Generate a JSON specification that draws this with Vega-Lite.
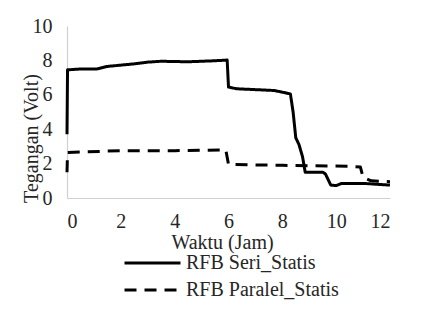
{
  "$schema": "https://vega.github.io/schema/vega-lite/v6.json",
  "width": 323,
  "height": 172,
  "autosize": {"type": "none"},
  "padding": {"left": 67, "top": 26, "right": 36, "bottom": 112},
  "background": "white",
  "config": {
    "view": {"stroke": null},
    "font": "Liberation Serif",
    "axis": {"labelFont": "Liberation Serif", "titleFont": "Liberation Serif", "labelFontSize": 20, "titleFontSize": 20, "titleFontWeight": "normal", "labelColor": "#262626", "titleColor": "#262626", "domainColor": "#d0d0d0", "domainWidth": 1.2, "ticks": false, "grid": false},
    "legend": {"labelFont": "Liberation Serif", "labelFontSize": 20, "labelColor": "#262626", "padding": 0}
  },
  "data": {
    "values": [
      {"t": 0, "v": 3.7, "s": "RFB Seri_Statis"},
      {"t": 0.02, "v": 7.45, "s": "RFB Seri_Statis"},
      {"t": 0.5, "v": 7.5, "s": "RFB Seri_Statis"},
      {"t": 1.1, "v": 7.5, "s": "RFB Seri_Statis"},
      {"t": 1.5, "v": 7.65, "s": "RFB Seri_Statis"},
      {"t": 2.5, "v": 7.8, "s": "RFB Seri_Statis"},
      {"t": 3.0, "v": 7.9, "s": "RFB Seri_Statis"},
      {"t": 3.5, "v": 7.95, "s": "RFB Seri_Statis"},
      {"t": 4.5, "v": 7.92, "s": "RFB Seri_Statis"},
      {"t": 5.5, "v": 7.98, "s": "RFB Seri_Statis"},
      {"t": 5.95, "v": 8.02, "s": "RFB Seri_Statis"},
      {"t": 6.0, "v": 6.45, "s": "RFB Seri_Statis"},
      {"t": 6.3, "v": 6.35, "s": "RFB Seri_Statis"},
      {"t": 7.0, "v": 6.3, "s": "RFB Seri_Statis"},
      {"t": 7.7, "v": 6.25, "s": "RFB Seri_Statis"},
      {"t": 8.1, "v": 6.12, "s": "RFB Seri_Statis"},
      {"t": 8.3, "v": 6.05, "s": "RFB Seri_Statis"},
      {"t": 8.4, "v": 5.0, "s": "RFB Seri_Statis"},
      {"t": 8.5, "v": 3.5, "s": "RFB Seri_Statis"},
      {"t": 8.62, "v": 3.1, "s": "RFB Seri_Statis"},
      {"t": 8.75, "v": 2.4, "s": "RFB Seri_Statis"},
      {"t": 8.85, "v": 1.5, "s": "RFB Seri_Statis"},
      {"t": 9.5, "v": 1.5, "s": "RFB Seri_Statis"},
      {"t": 9.6, "v": 1.4, "s": "RFB Seri_Statis"},
      {"t": 9.8, "v": 0.75, "s": "RFB Seri_Statis"},
      {"t": 10.0, "v": 0.72, "s": "RFB Seri_Statis"},
      {"t": 10.2, "v": 0.85, "s": "RFB Seri_Statis"},
      {"t": 11.0, "v": 0.85, "s": "RFB Seri_Statis"},
      {"t": 12.0, "v": 0.75, "s": "RFB Seri_Statis"},
      {"t": 0, "v": 1.5, "s": "RFB Paralel_Statis"},
      {"t": 0.02, "v": 2.65, "s": "RFB Paralel_Statis"},
      {"t": 2.0, "v": 2.75, "s": "RFB Paralel_Statis"},
      {"t": 4.0, "v": 2.75, "s": "RFB Paralel_Statis"},
      {"t": 5.9, "v": 2.8, "s": "RFB Paralel_Statis"},
      {"t": 6.0, "v": 1.95, "s": "RFB Paralel_Statis"},
      {"t": 8.0, "v": 1.9, "s": "RFB Paralel_Statis"},
      {"t": 10.5, "v": 1.85, "s": "RFB Paralel_Statis"},
      {"t": 10.9, "v": 1.8, "s": "RFB Paralel_Statis"},
      {"t": 11.0, "v": 1.2, "s": "RFB Paralel_Statis"},
      {"t": 11.3, "v": 1.0, "s": "RFB Paralel_Statis"},
      {"t": 12.0, "v": 0.95, "s": "RFB Paralel_Statis"}
    ]
  },
  "mark": {"type": "line", "strokeWidth": 3, "color": "black", "strokeJoin": "round"},
  "encoding": {
    "x": {"field": "t", "type": "quantitative", "scale": {"domain": [0, 12], "nice": false}, "axis": {"values": [0, 2, 4, 6, 8, 10, 12], "labelPadding": 13, "title": "Waktu (Jam)", "titlePadding": 1, "titleX": 155}},
    "y": {"field": "v", "type": "quantitative", "scale": {"domain": [0, 10], "nice": false}, "axis": {"values": [0, 2, 4, 6, 8, 10], "labelPadding": 15, "title": "Tegangan (Volt)", "titleX": -30, "titleY": 112, "titleBaseline": "alphabetic", "titleAngle": -90}},
    "strokeDash": {"field": "s", "type": "nominal", "sort": null, "scale": {"domain": ["RFB Seri_Statis", "RFB Paralel_Statis"], "range": [[1, 0], [12, 8]]}, "legend": {"title": null, "orient": "none", "legendX": 56, "legendY": 227, "symbolType": "stroke", "symbolSize": 3136, "symbolStrokeWidth": 3, "symbolStrokeColor": "black", "labelOffset": 4, "clipHeight": 20, "rowPadding": 7}},
    "order": {"field": "t", "type": "quantitative"}
  }
}
